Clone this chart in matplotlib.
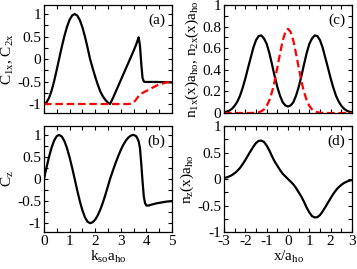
import numpy as np
import matplotlib
matplotlib.use("Agg")
import matplotlib.pyplot as plt
from matplotlib.ticker import MultipleLocator

plt.rcParams['font.family'] = ['Liberation Serif', 'DejaVu Serif']
plt.rcParams['mathtext.fontset'] = 'custom'
plt.rcParams['mathtext.rm'] = 'Liberation Serif'
plt.rcParams['mathtext.it'] = 'Liberation Serif:italic'

# ---- panel (a)/(b) data: k_so a_ho ----
k = [0.0, 0.1, 0.2, 0.3, 0.4, 0.5, 0.59, 0.7, 0.8, 0.9, 1.0, 1.1, 1.2,
     1.3, 1.4, 1.5, 1.6, 1.7, 1.8, 1.9, 2.0, 2.1, 2.2, 2.3, 2.4, 2.5, 2.58,
     2.7, 2.8, 2.9, 3.0, 3.1, 3.2, 3.3, 3.4, 3.5, 3.6, 3.65, 3.7, 3.75,
     3.8, 3.85, 3.9, 3.95, 4.0, 4.1, 4.2, 4.4, 4.6, 4.8, 5.0]
C1x = [-1.0, -0.965, -0.862, -0.698, -0.484, -0.237, 0.0, 0.279, 0.515, 0.717,
       0.871, 0.967, 1.0, 0.966, 0.866, 0.707, 0.5, 0.259, 0.0, -0.2, -0.392,
       -0.568, -0.721, -0.83, -0.91, -0.97, -1.0, -0.86, -0.73, -0.6, -0.47,
       -0.34, -0.21, -0.08, 0.05, 0.18, 0.32, 0.40, 0.48, 0.30, -0.10, -0.42,
       -0.50, -0.51, -0.51, -0.51, -0.51, -0.51, -0.515, -0.515, -0.52]
C2x = [-1.0, -1.0, -1.0, -1.0, -1.0, -1.0, -1.0, -1.0, -1.0, -1.0,
       -1.0, -1.0, -1.0, -1.0, -1.0, -1.0, -1.0, -1.0, -1.0, -1.0, -1.0,
       -1.0, -1.0, -1.0, -1.0, -1.0, -1.0, -1.0, -1.0, -1.0, -1.0,
       -1.0, -1.0, -1.0, -0.995, -0.97, -0.90, -0.86, -0.82, -0.79, -0.77,
       -0.755, -0.74, -0.725, -0.71, -0.68, -0.65, -0.59, -0.55, -0.52, -0.50]
Cz = [0.0, 0.263, 0.507, 0.717, 0.875, 0.971, 1.0, 0.96, 0.857, 0.697,
      0.492, 0.255, 0.0, -0.259, -0.5, -0.707, -0.866, -0.966, -1.0, -0.98,
      -0.92, -0.823, -0.693, -0.535, -0.355, -0.16, 0.0, 0.204, 0.367, 0.519,
      0.657, 0.776, 0.871, 0.942, 0.985, 1.0, 0.97, 0.92, 0.85, 0.70, 0.35,
      -0.05, -0.40, -0.55, -0.60, -0.60, -0.58, -0.55, -0.53, -0.51, -0.50]

# ---- panel (c)/(d) data: x / a_ho ----
x = [-3.0, -2.875, -2.75, -2.625, -2.5, -2.375, -2.25, -2.125, -2.0, -1.875,
     -1.75, -1.625, -1.5, -1.375, -1.25, -1.125, -1.0, -0.875, -0.75, -0.625,
     -0.5, -0.375, -0.25, -0.125, 0.0, 0.125, 0.25, 0.375, 0.5, 0.625, 0.75,
     0.875, 1.0, 1.125, 1.25, 1.375, 1.5, 1.625, 1.75, 1.875, 2.0, 2.125,
     2.25, 2.375, 2.5, 2.625, 2.75, 2.875, 3.0]
n1x = [0.006, 0.012, 0.022, 0.040, 0.067, 0.106, 0.16, 0.234, 0.32, 0.417,
       0.51, 0.605, 0.674, 0.713, 0.718, 0.69, 0.64, 0.555, 0.45, 0.34,
       0.24, 0.16, 0.10, 0.07, 0.06, 0.07, 0.10, 0.16, 0.24, 0.34, 0.45,
       0.555, 0.64, 0.69, 0.718, 0.713, 0.674, 0.605, 0.51, 0.417, 0.32, 0.234,
       0.16, 0.106, 0.067, 0.040, 0.022, 0.012, 0.006]
n2x = [0.0, 0.0, 0.0, 0.0, 0.0, 0.0, 0.0, 0.0, 0.0, 0.0,
       0.0005, 0.001, 0.003, 0.007, 0.016, 0.034, 0.066, 0.118, 0.195, 0.297,
       0.421, 0.551, 0.669, 0.75, 0.78, 0.75, 0.669, 0.551, 0.421, 0.297, 0.195,
       0.118, 0.066, 0.034, 0.016, 0.007, 0.003, 0.001, 0.0005, 0.0, 0.0, 0.0,
       0.0, 0.0, 0.0, 0.0, 0.0, 0.0, 0.0]
nz = [0.02, 0.03, 0.05, 0.075, 0.11, 0.155, 0.21, 0.28, 0.36, 0.445,
      0.53, 0.61, 0.68, 0.72, 0.725, 0.70, 0.63, 0.54, 0.43, 0.33,
      0.25, 0.17, 0.10, 0.05, 0.0, -0.05, -0.10, -0.17, -0.25, -0.33, -0.43,
      -0.54, -0.63, -0.70, -0.725, -0.72, -0.68, -0.61, -0.53, -0.445, -0.36, -0.28,
      -0.21, -0.155, -0.11, -0.075, -0.05, -0.03, -0.02]

FS = 11
fig = plt.figure(figsize=(3.57, 2.69), dpi=100)

def style(ax, xmaj, xmin, ymaj, ymin):
    ax.xaxis.set_major_locator(MultipleLocator(xmaj))
    ax.xaxis.set_minor_locator(MultipleLocator(xmin))
    ax.yaxis.set_major_locator(MultipleLocator(ymaj))
    ax.yaxis.set_minor_locator(MultipleLocator(ymin))
    ax.tick_params(which='both', direction='in', top=True, right=True,
                   labelsize=FS, width=0.8, pad=2)
    ax.tick_params(which='major', length=3)
    ax.tick_params(which='minor', length=3)
    for s in ax.spines.values():
        s.set_linewidth(0.9)

def fmt(v, pos):
    if abs(v) < 1e-9:
        return '0'
    s = ('%g' % v)
    return s

axa = fig.add_axes([0.1232, 0.5799, 0.3585, 0.4015])
axb = fig.add_axes([0.1232, 0.1375, 0.3585, 0.3940])
axc = fig.add_axes([0.6275, 0.5799, 0.3585, 0.4015])
axd = fig.add_axes([0.6275, 0.1375, 0.3585, 0.3940])

axa.plot(k, C1x, color='black', lw=1.6)
axa.plot(k, C2x, color='red', lw=1.6, dashes=(3.4, 1.7))
axa.set_xlim(0, 5); axa.set_ylim(-1.2, 1.2)
style(axa, 1, 0.5, 0.5, 0.25)
axa.set_xticklabels([])
axa.yaxis.set_major_formatter(plt.FuncFormatter(fmt))
axa.set_ylabel(r'C$_{\mathrm{1x}}$, C$_{\mathrm{2x}}$', fontsize=FS, labelpad=1)
axa.text(0.88, 0.86, '(a)', transform=axa.transAxes, fontsize=FS, ha='center', va='center')

axb.plot(k, Cz, color='black', lw=1.6)
axb.set_xlim(0, 5); axb.set_ylim(-1.2, 1.2)
style(axb, 1, 0.5, 0.5, 0.25)
axb.yaxis.set_major_formatter(plt.FuncFormatter(fmt))
axb.xaxis.set_major_formatter(plt.FuncFormatter(fmt))
axb.set_ylabel(r'C$_{\mathrm{z}}$', fontsize=FS, labelpad=1)
axb.set_xlabel(r'k$_{\mathrm{so}}$a$_{\mathrm{ho}}$', fontsize=FS, labelpad=1)
axb.text(0.88, 0.86, '(b)', transform=axb.transAxes, fontsize=FS, ha='center', va='center')

axc.plot(x, n1x, color='black', lw=1.6)
axc.plot(x, n2x, color='red', lw=1.6, dashes=(3.4, 1.7))
axc.set_xlim(-3, 3); axc.set_ylim(0, 1)
style(axc, 1, 0.5, 0.2, 0.1)
axc.set_xticklabels([])
axc.yaxis.set_major_formatter(plt.FuncFormatter(fmt))
axc.set_ylabel(r'n$_{\mathrm{1x}}$(x)a$_{\mathrm{ho}}$, n$_{\mathrm{2x}}$(x)a$_{\mathrm{ho}}$',
               fontsize=FS, labelpad=1)
axc.text(0.88, 0.86, '(c)', transform=axc.transAxes, fontsize=FS, ha='center', va='center')

axd.plot(x, nz, color='black', lw=1.6)
axd.set_xlim(-3, 3); axd.set_ylim(-1, 1)
style(axd, 1, 0.5, 0.5, 0.25)
axd.yaxis.set_major_formatter(plt.FuncFormatter(fmt))
axd.xaxis.set_major_formatter(plt.FuncFormatter(fmt))
axd.set_ylabel(r'n$_{\mathrm{z}}$(x)a$_{\mathrm{ho}}$', fontsize=FS, labelpad=1)
axd.set_xlabel(r'x/a$_{\mathrm{ho}}$', fontsize=FS, labelpad=1)
axd.text(0.88, 0.86, '(d)', transform=axd.transAxes, fontsize=FS, ha='center', va='center')

fig.savefig('out.png', dpi=100)
